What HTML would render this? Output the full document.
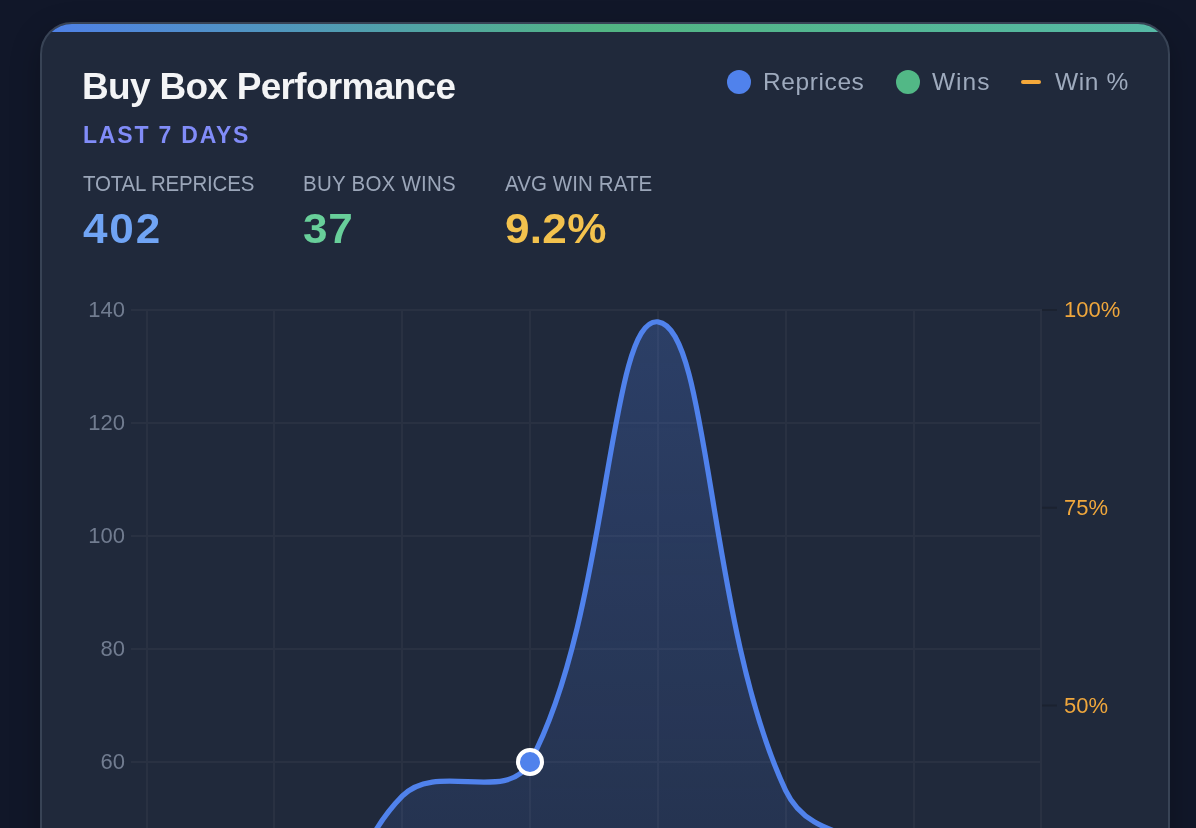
<!DOCTYPE html>
<html><head><meta charset="utf-8">
<style>
*{margin:0;padding:0;box-sizing:border-box}
html,body{width:1196px;height:828px;overflow:hidden;background:#111729;font-family:"Liberation Sans",sans-serif}
.card{position:absolute;left:40px;top:22px;width:1130px;height:1200px;background:#20293b;border:2px solid #384355;border-radius:32px;overflow:hidden;box-shadow:0 10px 30px rgba(0,0,0,0.25)}
.bar{position:absolute;left:0;top:0;right:0;height:8px;background:linear-gradient(90deg,#4f80e8,#52b583 50%,#56b9a6)}
.t{position:absolute;white-space:nowrap;will-change:transform}
.title{left:40px;top:42px;font-size:37px;font-weight:bold;color:#f3f4f6;letter-spacing:-0.7px}
.sub{left:41px;top:98px;font-size:23px;font-weight:bold;color:#818cf8;letter-spacing:1.8px}
.lbl{top:146px;font-size:20.5px;color:#9ba6b9;letter-spacing:-0.2px;transform:scaleY(1.08);transform-origin:0 0}
.num{top:179.6px;font-size:43px;font-weight:bold;transform:scaleX(1.025);transform-origin:0 0}
.leg{top:43.5px;font-size:24.5px;color:#9eaabd}
.dot{position:absolute;width:24px;height:24px;border-radius:50%}
.ax{font-size:20px;color:#6b7280}
.axr{font-size:20px;color:#e5a33c}
</style></head><body>
<div class="card">
  <div class="bar"></div>
  <div class="t title">Buy Box Performance</div>
  <div class="t sub">LAST 7 DAYS</div>
  <div class="t lbl" style="left:41px">TOTAL REPRICES</div>
  <div class="t lbl" style="left:261px;letter-spacing:0.25px">BUY BOX WINS</div>
  <div class="t lbl" style="left:463px;letter-spacing:0.1px">AVG WIN RATE</div>
  <div class="t num" style="left:41px;color:#70a4f4;letter-spacing:1.8px">402</div>
  <div class="t num" style="left:261px;color:#68cf9a;letter-spacing:0.8px">37</div>
  <div class="t num" style="left:463px;color:#f3c24d;letter-spacing:0.3px">9.2%</div>
  <div class="dot" style="left:685px;top:45.7px;background:#5082ec"></div>
  <div class="t leg" style="left:721px;letter-spacing:0.6px">Reprices</div>
  <div class="dot" style="left:854px;top:45.7px;background:#52b886"></div>
  <div class="t leg" style="left:890px;letter-spacing:1px">Wins</div>
  <div style="position:absolute;left:979px;top:56px;width:20px;height:4px;border-radius:2px;background:#f5a83a"></div>
  <div class="t leg" style="left:1013px;letter-spacing:0.6px">Win %</div>
</div>
<svg style="position:absolute;left:0;top:0" width="1196" height="828" viewBox="0 0 1196 828">
  <defs>
    <linearGradient id="fg" x1="0" y1="310" x2="0" y2="1101" gradientUnits="userSpaceOnUse">
      <stop offset="0" stop-color="#5082ec" stop-opacity="0.25"/>
      <stop offset="1" stop-color="#5082ec" stop-opacity="0.06"/>
    </linearGradient>
  </defs>
  <g stroke="#293142" stroke-width="2" fill="none">
    <path d="M131,310H1041 M131,423H1041 M131,536H1041 M131,649H1041 M131,762H1041"/>
    <path d="M147,309V828 M274,309V828 M402,309V828 M530,309V828 M658,309V828 M786,309V828 M914,309V828 M1041,309V828"/>
  </g>
  <path d="M1042,310H1057 M1042,507.75H1057 M1042,705.5H1057" stroke="#1b2230" stroke-width="2" fill="none"/>
  <path d="M147.00,983.17 C198.09,997.94 239.97,1045.56 274.71,1020.10 C342.14,970.68 334.87,864.22 402.43,795.95 C437.04,760.98 507.28,804.44 530.14,762.00 C609.45,614.80 608.25,316.35 657.86,321.84 C710.42,327.67 707.33,623.60 785.57,790.30 C809.50,841.28 866.96,829.57 913.29,866.05 C969.13,910.02 989.91,941.28 1041.00,991.43 L1041,1101 L147,1101 Z" fill="url(#fg)" stroke="none"/>
  <path d="M147.00,983.17 C198.09,997.94 239.97,1045.56 274.71,1020.10 C342.14,970.68 334.87,864.22 402.43,795.95 C437.04,760.98 507.28,804.44 530.14,762.00 C609.45,614.80 608.25,316.35 657.86,321.84 C710.42,327.67 707.33,623.60 785.57,790.30 C809.50,841.28 866.96,829.57 913.29,866.05 C969.13,910.02 989.91,941.28 1041.00,991.43" fill="none" stroke="#5082ec" stroke-width="5.2" stroke-linecap="round" stroke-linejoin="round"/>
  <circle cx="530" cy="762" r="12" fill="#5082ec" stroke="#ffffff" stroke-width="4"/>
  <g font-family="Liberation Sans, sans-serif" font-size="22">
    <text x="125" y="317" text-anchor="end" fill="#717c90">140</text>
    <text x="125" y="430" text-anchor="end" fill="#717c90">120</text>
    <text x="125" y="543" text-anchor="end" fill="#717c90">100</text>
    <text x="125" y="656" text-anchor="end" fill="#717c90">80</text>
    <text x="125" y="769" text-anchor="end" fill="#717c90">60</text>
    <text x="1064" y="317" fill="#f0a73c">100%</text>
    <text x="1064" y="515" fill="#f0a73c">75%</text>
    <text x="1064" y="713" fill="#f0a73c">50%</text>
  </g>
</svg>
</body></html>
